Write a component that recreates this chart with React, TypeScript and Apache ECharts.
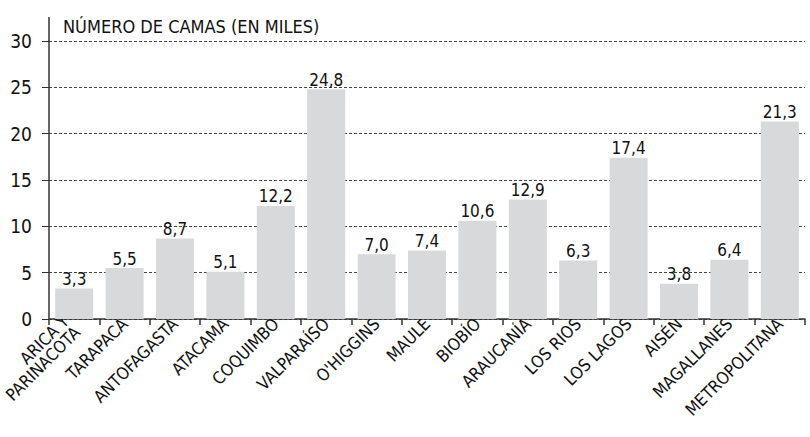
import React, { useEffect, useRef } from "react";
import * as echarts from "echarts";

const categories = [
  "ARICA Y\nPARINACOTA",
  "TARAPACÁ",
  "ANTOFAGASTA",
  "ATACAMA",
  "COQUIMBO",
  "VALPARAÍSO",
  "O'HIGGINS",
  "MAULE",
  "BIOBÍO",
  "ARAUCANÍA",
  "LOS RIOS",
  "LOS LAGOS",
  "AISÉN",
  "MAGALLANES",
  "METROPOLITANA",
];
const camas = [3.3, 5.5, 8.7, 5.1, 12.2, 24.8, 7.0, 7.4, 10.6, 12.9, 6.3, 17.4, 3.8, 6.4, 21.3];
const yTicks = [0, 5, 10, 15, 20, 25, 30];
const titleText = "NÚMERO DE CAMAS (EN MILES)";

const FONT = "'Liberation Sans Narrow', 'DejaVu Sans Condensed', 'Roboto', sans-serif";

export default function App() {
  const ref = useRef<HTMLDivElement>(null);
  useEffect(() => {
    if (!ref.current) return;
    const chart = echarts.init(ref.current, null, { renderer: "svg" });
    const xData = categories.map((c) =>
      c.indexOf("\n") >= 0 ? { value: c, textStyle: { padding: [38, 4, 0, 0] } } : c
    );
    chart.setOption({
      animation: false,
      textStyle: { fontFamily: FONT },
      title: {
        text: titleText,
        left: 58,
        top: 12,
        textStyle: { fontFamily: FONT, fontSize: 18, fontWeight: "normal", color: "#111" },
      },
      grid: {
        left: 49,
        right: 5,
        top: 41,
        bottom: 118,
        containLabel: false,
        outerBoundsMode: "none",
      },
      graphic: [
        {
          type: "line",
          shape: { x1: 49, y1: 17, x2: 49, y2: 41 },
          style: { stroke: "#333", lineWidth: 1.5 },
        },
      ],
      xAxis: {
        type: "category",
        data: xData,
        axisLine: { show: true, lineStyle: { color: "#333", width: 1.5 } },
        axisTick: { show: true, alignWithLabel: false, length: 6, lineStyle: { color: "#333", width: 1.5 } },
        axisLabel: {
          rotate: 45,
          interval: 0,
          margin: 2,
          fontFamily: FONT,
          fontSize: 17,
          lineHeight: 16,
          color: "#111",
          padding: [30, 0, 0, 0],
        },
      },
      yAxis: {
        type: "value",
        min: yTicks[0],
        max: yTicks[yTicks.length - 1],
        interval: 5,
        axisLine: { show: true, lineStyle: { color: "#333", width: 1.5 } },
        axisTick: { show: true, length: 7, lineStyle: { color: "#333" } },
        axisLabel: { fontFamily: FONT, fontSize: 19, color: "#111", margin: 17 },
        splitLine: { show: true, lineStyle: { color: "#444", type: [3, 2], width: 1 } },
      },
      series: [
        {
          type: "bar",
          data: camas,
          barWidth: 38,
          itemStyle: { color: "#d8d9db" },
          label: {
            show: true,
            position: "top",
            distance: 1,
            fontFamily: FONT,
            fontSize: 17,
            color: "#111",
            formatter: (p: any) => p.value.toFixed(1).replace(".", ","),
          },
        },
      ],
    });
    return () => chart.dispose();
  }, []);
  return (
    <div
      ref={ref}
      style={{ position: "absolute", left: 0, top: 0, width: 810, height: 437 }}
    />
  );
}
